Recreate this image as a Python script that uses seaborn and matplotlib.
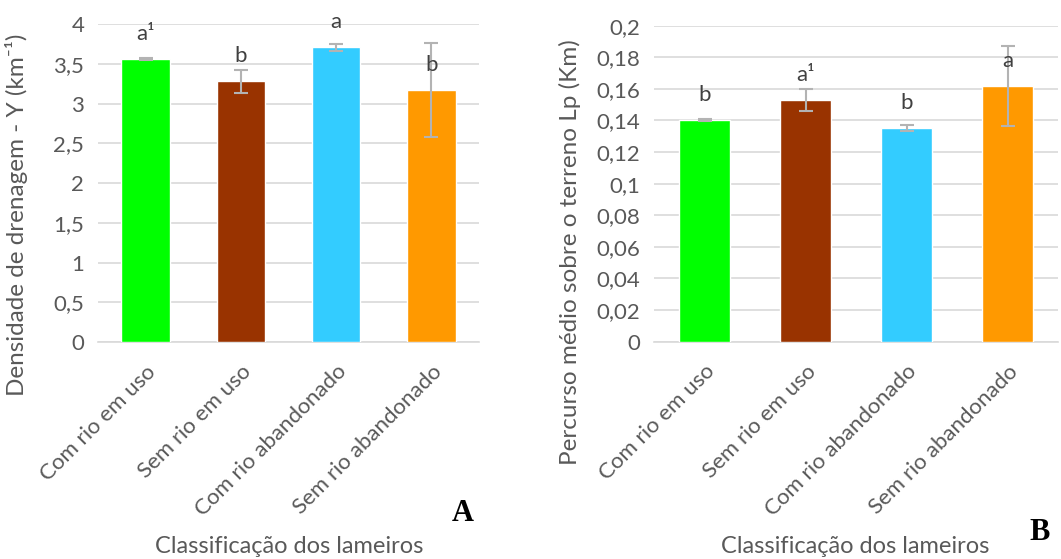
import numpy as np
import pandas as pd
import matplotlib
matplotlib.use('Agg')
import matplotlib.pyplot as plt
from matplotlib.ticker import FuncFormatter, MultipleLocator
import seaborn as sns

# dados
categorias = ['Com rio em uso', 'Sem rio em uso', 'Com rio abandonado', 'Sem rio abandonado']
cores = ['#00ff00', '#993300', '#33ccff', '#ff9900']

densidade = [3.56, 3.28, 3.71, 3.17]
densidade_erro = [0.01, 0.145, 0.045, 0.59]
densidade_letras = ['a¹', 'b', 'a', 'b']

percurso = [0.1403, 0.153, 0.1353, 0.1618]
percurso_erro = [0.0005, 0.0068, 0.0017, 0.0255]
percurso_letras = ['b', 'a¹', 'b', 'a']

sns.set_style('white')
plt.rcParams['font.family'] = ['Lato', 'DejaVu Sans']
cinza = '#595959'

fig = plt.figure(figsize=(10.61, 5.59), dpi=100)
axA = fig.add_axes([0.0924, 0.388, 0.359, 0.569])
axB = fig.add_axes([0.6164, 0.3887, 0.381, 0.5655])


def virgula(v, pos):
    return ('%g' % round(v, 4)).replace('.', ',')


def painel(ax, valores, erros, letras, ymax, passo):
    df = pd.DataFrame({'cat': categorias, 'valor': valores})
    sns.barplot(data=df, x='cat', y='valor', hue='cat', palette=cores,
                saturation=1, width=0.51, legend=False, ax=ax, zorder=3)
    ax.errorbar(np.arange(len(valores)), valores, yerr=erros, fmt='none',
                ecolor='#b3b3b3', elinewidth=1.5, capsize=5, capthick=1.5, zorder=4)
    for i, (v, l) in enumerate(zip(valores, letras)):
        ax.annotate(l, (i, v), xytext=(0, 18), textcoords='offset points',
                    ha='center', va='center', fontsize=16, color='#404040', zorder=5)
    ax.set_xlim(-0.5, len(valores) - 0.5)
    ax.set_ylim(0, ymax)
    ax.yaxis.set_major_locator(MultipleLocator(passo))
    ax.yaxis.set_major_formatter(FuncFormatter(virgula))
    ax.grid(axis='y', color='#d9d9d9', linewidth=1.2, zorder=0)
    for s in ['top', 'right', 'left']:
        ax.spines[s].set_visible(False)
    ax.spines['bottom'].set_color('#d9d9d9')
    ax.spines['bottom'].set_linewidth(1.2)
    ax.tick_params(axis='both', length=0, labelsize=16, colors=cinza, pad=10)
    ax.tick_params(axis='x', pad=14)
    plt.setp(ax.get_xticklabels(), rotation=45, ha='right', rotation_mode='anchor')
    ax.set_xlabel('')
    ax.set_ylabel('')


painel(axA, densidade, densidade_erro, densidade_letras, 4, 0.5)
painel(axB, percurso, percurso_erro, percurso_letras, 0.2, 0.02)

fig.text(0.016, 0.615, 'Densidade de drenagem - Y (km⁻¹)', rotation=90,
         ha='center', va='center', fontsize=17.5, color=cinza)
fig.text(0.537, 0.549, 'Percurso médio sobre o terreno Lp (Km)', rotation=90,
         ha='center', va='center', fontsize=17.5, color=cinza)
fig.text(0.273, 0.022, 'Classificação dos lameiros', ha='center', va='center',
         fontsize=17, color=cinza)
fig.text(0.806, 0.022, 'Classificação dos lameiros', ha='center', va='center',
         fontsize=17, color=cinza)
fig.text(0.436, 0.082, 'A', ha='center', va='center', fontsize=22,
         fontweight='bold', family='Liberation Serif', color='black')
fig.text(0.98, 0.048, 'B', ha='center', va='center', fontsize=22,
         fontweight='bold', family='Liberation Serif', color='black')

fig.savefig('out.png', dpi=100)
